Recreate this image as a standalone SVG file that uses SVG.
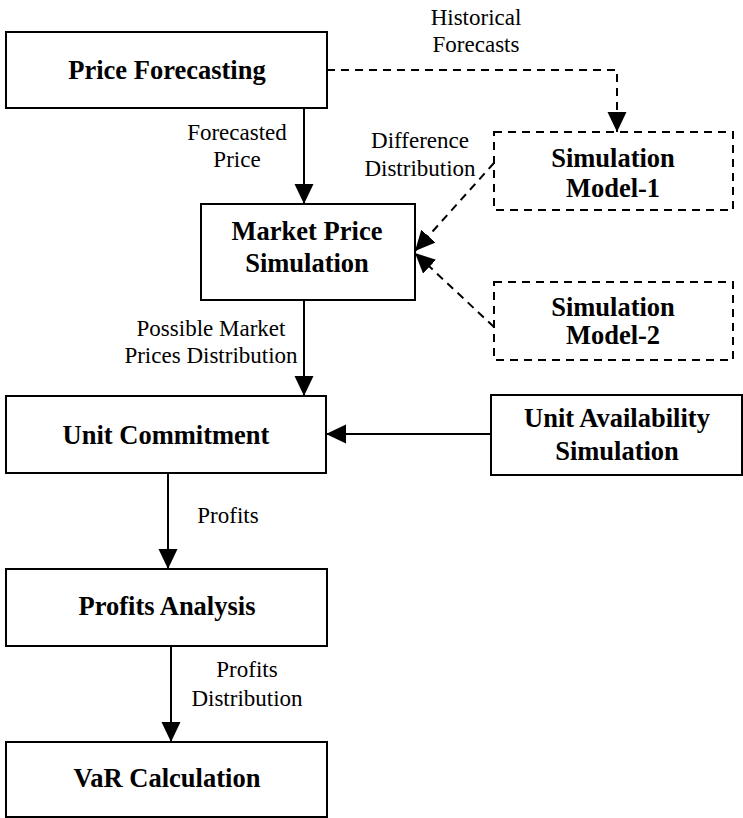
<svg xmlns="http://www.w3.org/2000/svg" width="743" height="818" viewBox="0 0 743 818">
<style>
.box{fill:#fff;stroke:#000;stroke-width:2}
.dbox{fill:#fff;stroke:#000;stroke-width:2;stroke-dasharray:8 6}
.t{font-family:"Liberation Serif","Times New Roman",serif;font-weight:bold;font-size:26.5px;text-anchor:middle;fill:#000}
.l{font-family:"Liberation Serif","Times New Roman",serif;font-size:23px;text-anchor:middle;fill:#000}
.c{fill:none;stroke:#000;stroke-width:2}
.d{fill:none;stroke:#000;stroke-width:2;stroke-dasharray:8 6}
</style>
<defs>
<marker id="ah" markerUnits="userSpaceOnUse" markerWidth="22" markerHeight="20" refX="20" refY="9.5" orient="auto">
<path d="M0,0 L20,9.5 L0,19 Z" fill="#000"/>
</marker>
</defs>
<g id="connectors">
<line class="c" x1="304" y1="108" x2="304" y2="204" marker-end="url(#ah)"/>
<polyline class="d" points="327,70 617,70 617,132" marker-end="url(#ah)"/>
<line class="d" x1="494" y1="163" x2="415" y2="251" marker-end="url(#ah)"/>
<line class="d" x1="494" y1="327" x2="415" y2="253" marker-end="url(#ah)"/>
<line class="c" x1="304" y1="300" x2="304" y2="396" marker-end="url(#ah)"/>
<line class="c" x1="490" y1="434" x2="326" y2="434" marker-end="url(#ah)"/>
<line class="c" x1="168" y1="473" x2="168" y2="569" marker-end="url(#ah)"/>
<line class="c" x1="171" y1="646" x2="171" y2="742" marker-end="url(#ah)"/>
</g>
<g id="labels">
<text class="l" x="476" y="25">Historical</text>
<text class="l" x="476" y="52">Forecasts</text>
<text class="l" x="237" y="140">Forecasted</text>
<text class="l" x="237" y="167">Price</text>
<text class="l" x="420" y="148">Difference</text>
<text class="l" x="420" y="176">Distribution</text>
<text class="l" x="211" y="336">Possible Market</text>
<text class="l" x="211" y="363">Prices Distribution</text>
<text class="l" x="228" y="523">Profits</text>
<text class="l" x="247" y="677">Profits</text>
<text class="l" x="247" y="706">Distribution</text>
</g>
<g id="price-forecasting">
<rect class="box" x="6" y="32" width="321" height="76"/>
<text class="t" x="167" y="79">Price Forecasting</text>
</g>
<g id="sim-model-1">
<rect class="dbox" x="494" y="132" width="239" height="78"/>
<text class="t" x="613" y="167">Simulation</text>
<text class="t" x="613" y="197">Model-1</text>
</g>
<g id="market-price-simulation">
<rect class="box" x="201" y="204" width="214" height="96"/>
<text class="t" x="307" y="240">Market Price</text>
<text class="t" x="307" y="272">Simulation</text>
</g>
<g id="sim-model-2">
<rect class="dbox" x="494" y="282" width="239" height="78"/>
<text class="t" x="613" y="316">Simulation</text>
<text class="t" x="613" y="344">Model-2</text>
</g>
<g id="unit-commitment">
<rect class="box" x="6" y="396" width="320" height="77"/>
<text class="t" x="166" y="444">Unit Commitment</text>
</g>
<g id="unit-availability">
<rect class="box" x="491" y="395" width="251" height="80"/>
<text class="t" x="617" y="427">Unit Availability</text>
<text class="t" x="617" y="460">Simulation</text>
</g>
<g id="profits-analysis">
<rect class="box" x="6" y="569" width="321" height="77"/>
<text class="t" x="167" y="615">Profits Analysis</text>
</g>
<g id="var-calculation">
<rect class="box" x="6" y="742" width="321" height="75"/>
<text class="t" x="167" y="787">VaR Calculation</text>
</g>
</svg>
